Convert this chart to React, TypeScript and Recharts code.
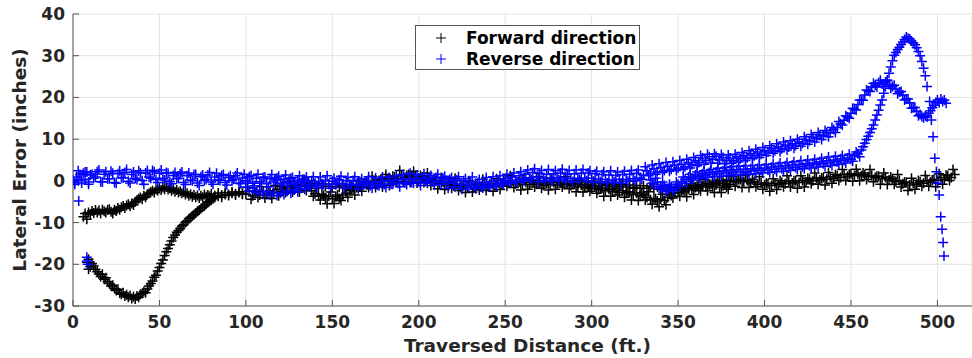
import React from 'react';
import { ScatterChart, Scatter, XAxis, YAxis, CartesianGrid, Legend, Label } from 'recharts';

// ---------- data (ft, inches) ----------
const xTicks = [0, 50, 100, 150, 200, 250, 300, 350, 400, 450, 500];
const yTicks = [-30, -20, -10, 0, 10, 20, 30, 40];
const seriesNames = ['Forward direction', 'Reverse direction'];

const fwdStartLower = [
  [8,-19.5],[9,-18.8],[9,-21.2],[10,-20.6],[11,-19.8],[12,-20.4],[13,-21.2],[14,-21.8],[15,-22.3],[16,-22.9],[17,-22.4],[18,-23.6],[19,-23.2],[20,-24.1],[21,-24.6],[22,-25.2],[23,-25.0],[24,-25.8],[25,-26.3],[26,-26.0],[27,-26.9],[28,-27.2],[29,-26.8],[30,-27.6],[31,-27.3],[32,-27.9],[33,-27.5],[34,-28.2],[35,-27.8],[36,-28.3],[37,-27.6],[38,-27.9],[39,-27.2],[40,-27.0],[41,-26.5],[42,-26.8],[43,-25.9],[44,-25.2],[45,-24.6],[46,-24.0],[47,-23.1],[48,-22.6],[49,-21.6],[50,-20.8],[51,-19.8],[52,-19.0],[53,-17.9],[54,-17.0],[55,-16.2],[56,-15.3],[57,-14.4],[58,-13.6],[59,-13.0],[60,-12.3],[61,-11.9],[62,-11.4],[63,-10.8],[64,-10.5],[65,-10.0],[66,-9.6],[67,-9.1],[68,-8.8],[69,-8.4],[70,-8.1],[71,-7.7],[72,-7.3],[73,-7.0],[74,-6.6],[75,-6.3],[76,-6.0],[77,-5.6],[78,-5.2],[79,-4.9],[80,-4.6],[81,-4.3],[82,-4.0],[84,-3.7],[86,-3.9],[88,-3.3],[90,-3.5],[92,-3.0],[94,-3.4],[96,-2.8],[98,-3.2],
];

const fwdStartUpper = [
  [6,-8.6],[7,-7.8],[8,-9.2],[9,-7.6],[10,-8.0],[11,-7.2],[12,-7.7],[13,-7.0],[14,-7.6],[15,-7.1],[16,-7.8],[17,-6.9],[18,-7.3],[19,-7.6],[20,-7.0],[21,-6.8],[22,-7.4],[23,-7.8],[24,-6.9],[25,-7.2],[26,-6.5],[27,-6.9],[28,-6.3],[29,-6.0],[30,-6.5],[31,-5.9],[32,-5.6],[33,-6.1],[34,-5.4],[35,-5.8],[36,-5.0],[37,-4.6],[38,-4.3],[39,-4.0],[40,-4.4],[41,-3.6],[42,-3.9],[43,-3.2],[44,-3.0],[45,-2.7],[46,-2.4],[47,-2.8],[48,-2.1],[49,-2.3],[50,-1.8],[51,-2.2],[52,-1.6],[53,-2.0],[54,-1.5],[55,-2.1],[56,-1.8],[57,-2.4],[58,-2.0],[59,-2.6],[60,-2.2],[61,-2.8],[62,-2.5],[63,-3.0],[64,-2.7],[65,-3.3],[66,-3.0],[67,-3.6],[68,-3.2],[69,-3.8],[70,-3.4],[71,-3.9],[72,-3.5],[73,-4.1],[74,-3.6],[75,-3.9],[76,-3.3],[77,-3.8],[78,-3.4],[79,-3.7],[80,-3.1],[82,-3.5],[84,-2.9],[86,-3.4],[88,-2.8],[90,-3.3],[92,-2.7],[94,-3.1],[96,-2.6],[98,-3.0],
];

const fwdMain = [
  [100,-3.2],[102,-2.5],[104,-3.6],[106,-2.8],[108,-3.4],[110,-2.6],[112,-3.3],[114,-2.4],[116,-2.9],[118,-2.0],[120,-2.5],[122,-1.7],[124,-2.2],[126,-1.4],[128,-1.8],[130,-0.9],[132,-1.3],[134,-0.6],[136,-1.2],[138,-2.4],[140,-3.1],[142,-3.6],[144,-3.2],[146,-4.1],[148,-3.7],[150,-4.3],[152,-3.8],[154,-4.2],[156,-3.4],[158,-3.0],[160,-2.4],[162,-2.0],[164,-1.6],[166,-1.2],[168,-1.0],[170,-0.5],[172,-0.9],[174,-0.2],[176,-0.6],[178,0.3],[180,-0.1],[182,0.5],[184,0.2],[186,0.9],[188,0.5],[190,1.2],[192,0.8],[194,1.5],[196,0.9],[198,1.2],
  [200,0.6],[202,0.9],[204,0.2],[206,0.5],[208,-0.2],[210,0.1],[212,-0.6],[214,-0.3],[216,-1.0],[218,-0.6],[220,-1.2],[222,-0.8],[224,-1.4],[226,-0.9],[228,-1.5],[230,-1.0],[232,-1.6],[234,-1.1],[236,-1.5],[238,-0.9],[240,-1.3],[242,-0.7],[244,-1.1],[246,-0.5],[248,-0.9],[250,-0.2],[252,-0.6],[254,-0.1],[256,-0.7],[258,-0.3],[260,-0.8],[262,-0.4],[264,-0.9],[266,-0.3],[268,-0.8],[270,-0.4],[272,-1.0],[274,-0.5],[276,-0.9],[278,-0.4],[280,-1.0],[282,-0.5],[284,-0.9],[286,-0.6],[288,-1.1],[290,-0.8],[292,-1.4],[294,-1.0],[296,-1.6],[298,-1.3],
  [300,-1.9],[302,-1.5],[304,-2.1],[306,-1.8],[308,-2.4],[310,-2.0],[312,-2.6],[314,-2.2],[316,-2.8],[318,-2.4],[320,-3.0],[322,-2.7],[324,-3.3],[326,-2.9],[328,-3.6],[330,-3.3],[332,-4.0],[334,-4.5],[336,-4.2],[338,-4.8],[340,-4.4],[342,-4.7],[344,-4.0],[346,-3.5],[348,-3.0],[350,-2.8],[352,-2.3],[354,-2.6],[356,-1.9],[358,-2.2],[360,-1.6],[362,-1.9],[364,-1.2],[366,-1.5],[368,-0.9],[370,-1.4],[372,-1.0],[374,-1.6],[376,-1.2],[378,-1.5],[380,-0.8],[382,-0.3],[384,0.0],[386,0.3],[388,-0.2],[390,0.1],[392,-0.5],[394,-0.2],[396,-0.8],[398,-0.5],
  [400,-1.0],[402,-0.7],[404,-1.1],[406,-0.6],[408,-0.9],[410,-0.4],[412,-0.7],[414,-0.1],[416,-0.5],[418,0.0],[420,-0.4],[422,0.1],[424,-0.3],[426,0.4],[428,0.0],[430,0.6],[432,0.2],[434,0.8],[436,0.4],[438,1.0],[440,0.6],[442,1.2],[444,0.8],[446,1.5],[448,1.1],[450,1.7],[452,1.3],[454,1.6],[456,1.2],[458,1.5],[460,1.0],[462,1.3],[464,0.8],[466,1.1],[468,0.5],[470,0.8],[472,0.2],[474,0.5],[476,-0.2],[478,0.1],[480,-0.7],[482,-0.4],[484,-1.0],[486,-0.5],[488,-0.8],[490,-0.2],[492,-0.6],[494,0.0],[496,-0.3],[498,0.4],[500,0.1],[502,0.8],[504,0.4],[506,1.2],[508,0.8],[510,1.5],
];

const fwdMainB = [
  [101,-1.6],[103,-4.4],[105,-2.5],[107,-4.0],[109,-1.4],[111,-4.1],[113,-2.6],[115,-4.2],[117,-1.1],[119,-3.6],[121,-1.4],[123,-2.8],[125,-0.1],[127,-2.7],[129,-1.1],[131,-2.7],[133,0.4],[135,-2.3],[137,-1.2],[139,-3.7],[141,-1.7],[143,-4.6],[145,-3.5],[147,-5.5],[149,-2.7],[151,-5.4],[153,-3.4],[155,-4.7],[157,-1.6],[159,-3.9],[161,-2.0],[163,-3.4],[165,-0.1],[167,-2.5],[169,-0.2],[171,-1.6],[173,1.1],[175,-1.6],[177,0.1],[179,-1.5],[181,1.5],[183,-1.1],[185,1.1],[187,-0.2],[189,2.5],[191,-0.2],[193,1.3],[195,-0.4],[197,2.3],[199,-0.5],
  [201,1.3],[203,-0.4],[205,1.9],[207,-1.1],[209,0.1],[211,-1.9],[213,0.8],[215,-2.1],[217,-0.2],[219,-1.8],[221,0.6],[223,-2.3],[225,-1.0],[227,-2.8],[229,0.0],[231,-2.7],[233,-0.7],[235,-2.2],[237,0.4],[239,-2.3],[241,-0.8],[243,-2.5],[245,0.5],[247,-2.1],[249,0.0],[251,-1.3],[253,1.2],[255,-1.6],[257,-0.4],[259,-2.2],[261,0.7],[263,-2.0],[265,0.0],[267,-1.5],[269,1.0],[271,-1.8],[273,-0.4],[275,-2.2],[277,0.7],[279,-2.0],[281,0.0],[283,-1.5],[285,1.0],[287,-1.9],[289,-0.6],[291,-2.6],[293,0.1],[295,-2.7],[297,-0.9],[299,-2.5],
  [301,-0.1],[303,-3.0],[305,-1.8],[307,-3.7],[309,-0.9],[311,-3.7],[313,-1.8],[315,-3.4],[317,-1.0],[319,-3.9],[321,-2.7],[323,-4.6],[325,-1.8],[327,-4.7],[329,-2.9],[331,-4.6],[333,-2.6],[335,-5.6],[337,-4.3],[339,-6.2],[341,-3.2],[343,-5.7],[345,-3.2],[347,-4.1],[349,-1.3],[351,-3.7],[353,-2.2],[355,-3.8],[357,-0.7],[359,-3.3],[361,-1.1],[363,-2.4],[365,0.3],[367,-2.4],[369,-0.9],[371,-2.8],[373,0.0],[375,-2.8],[377,-0.7],[379,-2.0],[381,1.1],[383,-1.3],[385,0.3],[387,-1.6],[389,1.3],[391,-1.6],[393,0.3],[395,-1.4],[397,1.0],[399,-2.0],
  [401,-0.6],[403,-2.5],[405,0.5],[407,-2.1],[409,0.0],[411,-1.4],[413,1.2],[415,-1.5],[417,0.0],[419,-1.8],[421,1.2],[423,-1.5],[425,0.6],[427,-0.7],[429,1.9],[431,-0.8],[433,0.7],[435,-1.0],[437,2.0],[439,-0.6],[441,1.5],[443,0.1],[445,2.7],[447,0.1],[449,1.6],[451,-0.1],[453,2.8],[455,0.0],[457,1.9],[459,0.3],[461,2.7],[463,-0.2],[465,1.1],[467,-0.8],[469,1.9],[471,-0.9],[473,0.9],[475,-0.8],[477,1.5],[479,-1.5],[481,-0.3],[483,-2.3],[485,0.6],[487,-2.0],[489,0.1],[491,-1.3],[493,1.3],[495,-1.3],[497,0.2],[499,-1.4],
  [501,1.7],[503,-0.8],[505,1.4],[507,0.1],[509,2.7],
];

const fwdSecondary = [
  [136,-0.3],[138,-1.0],[140,-0.6],[142,-1.2],[144,-0.7],[146,-1.3],[148,-0.8],[150,-1.4],[152,-0.9],[154,-1.5],[156,-1.0],[158,-1.6],[160,-1.1],[162,-1.4],[164,-0.9],[166,-1.2],[168,-0.7],[170,-1.0],
  [290,-0.2],[292,-0.7],[294,-0.3],[296,-0.9],[298,-0.4],[300,-1.0],[302,-0.5],[304,-1.1],[306,-0.6],[308,-1.2],[310,-0.7],[312,-1.3],[314,-0.8],[316,-1.4],[318,-0.9],[320,-1.5],[322,-1.0],[324,-1.6],[326,-1.1],[328,-1.7],[330,-1.2],[332,-1.8],[334,-1.3],[336,-1.9],[338,-1.4],[340,-2.0],[342,-1.5],[344,-2.1],[346,-1.6],[348,-2.2],[350,-1.7],[352,-2.0],[354,-1.4],[356,-1.8],[358,-1.2],[360,-1.5],[362,-0.9],[364,-1.2],[366,-0.6],[368,-0.9],[370,-0.3],[372,-0.6],[374,0.0],[376,-0.3],[378,0.2],[380,-0.1],
];

const revMain = [
  [0,0.2],[1,-0.8],[2,0.9],[3,0.0],[4,1.5],[5,-0.5],[6,1.8],[7,0.4],[8,2.1],[9,-0.3],[10,1.4],[12,0.6],[14,2.2],[16,-0.2],[18,1.6],[20,0.5],[22,2.3],[24,-0.4],[26,1.7],[28,0.8],[30,2.0],[32,-0.1],[34,1.5],[36,0.6],[38,2.4],[40,0.1],[42,1.9],[44,0.9],[46,2.5],[48,0.3],[50,1.8],[52,0.6],[54,2.0],[56,-0.2],[58,1.3],[60,0.5],[62,1.7],[64,-0.4],[66,1.2],[68,0.2],[70,1.5],[72,-0.5],[74,1.0],[76,0.1],[78,1.4],[80,-0.3],[82,0.9],[84,0.2],[86,1.3],[88,-0.4],[90,0.8],[92,0.0],[94,1.2],[96,-0.5],[98,0.7],
  [100,0.0],[102,1.0],[104,-0.6],[106,0.6],[108,-0.2],[110,0.8],[112,-0.7],[114,0.5],[116,-0.3],[118,0.7],[120,-0.6],[122,0.4],[124,-0.4],[126,0.6],[128,-0.8],[130,0.2],[132,-0.5],[134,0.3],[136,-0.9],[138,0.0],[140,-0.9],[142,-0.2],[144,-1.0],[146,0.1],[148,-0.8],[150,-0.1],[152,-0.9],[154,0.2],[156,-0.7],[158,0.0],[160,-0.8],[162,0.1],[164,-0.9],[166,-0.2],[168,-1.0],[170,-0.3],[172,-1.1],[174,-0.4],[176,-1.0],[178,-0.2],[180,-0.9],[182,0.0],[184,-0.8],[186,0.1],[188,-0.6],[190,0.3],[192,-0.5],[194,0.4],[196,-0.4],[198,0.5],
  [200,-0.2],[202,0.6],[204,-0.1],[206,0.7],[208,0.0],[210,0.8],[212,-0.2],[214,0.6],[216,-0.3],[218,0.4],[220,-0.6],[222,0.2],[224,-0.8],[226,0.0],[228,-1.0],[230,-0.3],[232,-1.2],[234,-0.5],[236,-1.3],[238,-0.4],[240,-1.1],[242,-0.2],[244,-0.8],[246,0.2],[248,-0.5],[250,0.5],[252,-0.1],[254,0.9],[256,0.2],[258,1.2],[260,0.4],[262,1.6],[264,0.7],[266,2.0],[268,0.9],[270,1.8],[272,0.6],[274,1.6],[276,0.5],[278,1.7],[280,0.8],[282,1.9],[284,0.7],[286,1.6],[288,0.5],[290,1.7],[292,0.6],[294,1.8],[296,0.7],[298,1.9],
  [300,0.6],[302,1.7],[304,0.4],[306,1.5],[308,0.3],[310,1.4],[312,0.2],[314,1.3],[316,0.4],[318,1.5],[320,0.3],[322,1.6],[324,0.5],[326,1.8],[328,0.7],
];

const revMainB = [
  [1,-0.4],[3,2.4],[5,0.2],[7,2.1],[9,-0.8],[11,1.6],[13,0.9],[15,2.6],[17,-0.3],[19,2.2],[21,0.5],[23,1.8],[25,-0.6],[27,2.4],[29,0.7],[31,2.7],[33,-0.5],[35,2.1],[37,0.3],[39,1.9],[41,-0.8],[43,2.5],[45,0.6],[47,2.2],[49,-0.4],[51,2.6],[53,0.2],[55,1.8],[57,-0.7],[59,2.0],[61,0.6],[63,2.1],[65,-0.9],[67,1.9],[69,0.0],[71,1.5],[73,-1.1],[75,1.4],[77,0.3],[79,2.0],[81,-0.8],[83,1.8],[85,0.1],[87,1.5],[89,-1.0],[91,1.2],[93,0.4],[95,1.9],[97,-0.7],[99,1.6],
  [101,-0.3],[103,1.3],[105,-1.2],[107,1.6],[109,-0.6],[111,0.9],[113,-1.4],[115,1.5],[117,0.2],[119,1.1],[121,-1.0],[123,1.4],[125,-0.5],[127,0.8],[129,-1.3],[131,1.2],[133,-0.2],[135,0.9],[137,-1.5],[139,1.0],[141,-1.6],[143,0.9],[145,-0.9],[147,1.2],[149,-1.8],[151,0.6],[153,-0.6],[155,1.1],[157,-1.7],[159,0.8],[161,-1.1],[163,1.0],[165,-1.9],[167,0.5],[169,-0.7],[171,1.0],[173,-1.8],[175,0.7],[177,-1.2],[179,0.9],[181,-1.6],[183,0.8],[185,-0.8],[187,1.2],[189,-1.4],[191,1.5],[193,-0.9],[195,1.8],[197,-0.5],[199,1.4],
  [201,-1.1],[203,1.7],[205,-0.6],[207,1.3],[209,-1.0],[211,1.6],[213,-0.8],[215,1.1],[217,-1.8],[219,0.8],[221,-1.4],[223,1.0],[225,-2.0],[227,0.5],[229,-1.6],[231,0.9],[233,-1.9],[235,0.3],[237,-1.7],[239,0.8],[241,-1.5],[243,1.0],[245,-1.3],[247,1.2],[249,-0.9],[251,1.6],[253,-0.6],[255,1.9],[257,-0.3],[259,2.2],[261,0.0],[263,2.6],[265,0.3],[267,2.9],[269,-0.2],[271,2.5],[273,0.1],[275,2.7],[277,-0.1],[279,2.4],[281,0.2],[283,2.8],[285,0.0],[287,2.5],[289,-0.2],[291,2.6],[293,0.3],[295,2.7],[297,0.0],[299,2.4],
  [301,-0.4],[303,2.3],[305,-0.2],[307,2.2],[309,-0.5],[311,2.4],[313,-0.3],[315,2.1],[317,-0.6],[319,2.3],[321,-0.1],[323,2.5],[325,0.0],[327,2.6],[329,0.4],
];

const revSecondary = [
  [100,-1.5],[102,-2.4],[104,-1.8],[106,-2.8],[108,-2.2],[110,-3.2],[112,-2.6],[114,-3.4],[116,-2.8],[118,-3.5],[120,-2.9],[122,-3.3],[124,-2.5],[126,-3.0],[128,-2.2],[130,-2.6],[132,-1.8],[134,-2.0],
];

const revUpper = [
  [330,1.4],[332,2.4],[334,1.8],[336,2.9],[338,2.2],[340,3.2],[342,2.5],[344,3.5],[346,2.8],[348,3.8],[350,3.1],[352,4.0],[354,3.4],[356,4.4],[358,3.9],[360,4.9],[362,4.4],[364,5.5],[366,4.9],[368,5.8],[370,5.2],[372,5.9],[374,5.0],[376,5.6],[378,4.8],[380,5.5],[382,4.9],[384,5.8],[386,5.3],[388,6.1],[390,5.6],[392,6.5],[394,6.0],[396,6.9],[398,6.4],
  [400,7.3],[402,6.9],[404,7.8],[406,7.3],[408,8.2],[410,7.7],[412,8.6],[414,8.1],[416,8.9],[418,8.5],[420,9.3],[422,9.0],[424,9.9],[426,9.6],[428,10.5],[430,10.2],[432,11.0],[434,10.8],[436,11.6],[438,11.5],[440,12.3],[442,12.8],[444,13.7],[446,14.5],[448,15.3],[450,16.2],[452,17.1],[454,18.3],[456,19.3],[458,20.6],[460,21.6],[462,22.5],[464,22.9],[466,23.6],[468,23.2],[470,23.7],[472,23.1],[474,22.6],[476,22.0],[478,21.3],[480,20.6],[482,19.6],[484,18.7],[486,17.5],[488,16.7],[490,15.9],[491,15.4],[492,15.1],[493,15.6],[494,15.3],[495,16.2],[496,16.8],[497,17.5],[498,18.1],[499,18.8],[500,19.4],[501,18.7],[502,19.6],[503,19.0],[504,19.4],[505,18.6],
];

const revUpperB = [
  [331,3.4],[333,1.2],[335,3.8],[337,1.6],[339,4.1],[341,2.0],[343,4.4],[345,2.3],[347,4.6],[349,2.5],[351,4.9],[353,2.8],[355,5.2],[357,3.1],[359,5.6],[361,3.6],[363,6.1],[365,4.0],[367,6.4],[369,4.3],[371,6.5],[373,4.2],[375,6.3],[377,4.1],[379,6.2],[381,4.2],[383,6.4],[385,4.5],[387,6.8],[389,4.9],[391,7.2],[393,5.3],[395,7.6],[397,5.6],[399,8.0],
  [401,6.1],[403,8.4],[405,6.6],[407,8.9],[409,7.0],[411,9.3],[413,7.4],[415,9.6],[417,7.8],[419,10.0],[421,8.3],[423,10.6],[425,8.8],[427,11.1],[429,9.3],[431,11.6],[433,9.9],[435,12.1],[437,10.6],[439,12.8],[441,11.6],[443,14.2],[445,13.4],[447,15.6],[449,15.0],[451,17.4],[453,17.0],[455,19.4],[457,19.3],[459,21.8],[461,21.4],[463,23.4],[465,22.5],[467,24.1],[469,22.6],[471,24.0],[473,22.2],[475,22.9],[477,20.9],[479,21.4],[481,19.4],[483,19.6],[485,17.4],[487,17.6],[489,15.6],
];

const revLower = [
  [334,0.2],[336,-0.9],[338,-0.4],[340,-1.6],[342,-1.1],[344,-2.2],[346,-1.4],[348,-1.9],[350,-0.8],[352,-0.2],[354,0.3],[356,0.9],[358,0.6],[360,1.4],[362,1.0],[364,1.7],[366,1.3],[368,2.0],[370,1.5],[372,2.2],[374,1.7],[376,2.4],[378,1.9],[380,2.6],[382,2.0],[384,2.7],[386,2.1],[388,2.8],[390,2.2],[392,2.9],[394,2.4],[396,3.0],[398,2.5],
  [400,3.1],[402,2.6],[404,3.3],[406,2.8],[408,3.5],[410,2.9],[412,3.6],[414,3.1],[416,3.8],[418,3.2],[420,3.9],[422,3.4],[424,4.1],[426,3.6],[428,4.3],[430,3.9],[432,4.6],[434,4.1],[436,4.8],[438,4.3],[440,5.0],[442,4.6],[444,5.3],[446,4.9],[448,5.5],[450,5.2],[452,6.0],[454,6.5],[456,7.4],[457,8.2],[458,9.0],[459,9.9],[460,10.7],[461,11.6],[462,12.5],[463,13.4],[464,14.6],[465,15.8],[466,16.9],[467,18.2],[468,19.4],[469,21.0],[470,22.6],[471,24.2],[472,25.8],[473,27.3],[474,28.8],[475,30.1],[476,30.8],[477,31.5],[478,32.0],[479,32.7],[480,33.3],[481,33.9],[482,34.5],[483,34.2],[484,34.0],[485,33.5],[486,33.1],[487,32.6],[488,31.9],[489,31.0],[490,30.0],[491,28.6],[492,27.0],[493,25.2],[494,22.6],[495.5,19.0],[496.5,14.6],[497.5,10.6],[498.5,5.4],[499.4,2.2],[500.2,-0.6],[501,-3.4],[501.9,-8.6],[502.7,-11.6],[503.3,-14.8],[503.8,-18.0],
];

const revLowerB = [
  [335,-0.6],[337,0.6],[339,-1.9],[341,-0.3],[343,-2.6],[345,-0.8],[347,-2.4],[349,-0.3],[351,-1.3],[353,0.9],[355,-0.6],[357,1.6],[359,0.2],[361,2.1],[363,0.6],[365,2.4],[367,0.8],[369,2.7],[371,1.0],[373,3.0],[375,1.1],[377,3.2],[379,1.3],[381,3.4],[383,1.4],[385,3.5],[387,1.5],[389,3.6],[391,1.6],[393,3.7],[395,1.7],[397,3.8],[399,1.9],
  [401,3.9],[403,2.0],[405,4.1],[407,2.2],[409,4.3],[411,2.3],[413,4.4],[415,2.5],[417,4.6],[419,2.7],[421,4.8],[423,2.9],[425,5.0],[427,3.1],[429,5.2],[431,3.3],[433,5.4],[435,3.5],[437,5.7],[439,3.7],[441,5.9],[443,4.0],[445,6.1],[447,4.3],[449,6.4],[451,4.7],[453,6.9],[455,5.8],
];

const revStartIsolated = [
  [3.3,-4.8],[8,-18.3],[8.2,-19.2],[8.5,-20.0],
];

// ---------- build series ----------
const toPoints = (arr: number[][]) => arr.map(([x, y]) => ({ x, y }));
const forwardData = toPoints([...fwdStartUpper, ...fwdStartLower, ...fwdMain, ...fwdMainB, ...fwdSecondary]);
const reverseData = toPoints([
  ...revMain, ...revMainB, ...revSecondary, ...revUpper, ...revUpperB, ...revLower, ...revLowerB, ...revStartIsolated,
]);

const FONT = '"DejaVu Sans", sans-serif';
const AXIS = '#555555';
const TEXT = '#262626';

const Plus = (props: any) => {
  const { cx, cy, color } = props;
  if (cx == null || cy == null) return null;
  return (
    <path
      d={`M${cx - 5},${cy}H${cx + 5}M${cx},${cy - 5}V${cy + 5}`}
      stroke={color}
      strokeWidth={1.5}
      fill="none"
    />
  );
};

const LegendBox = () => (
  <div
    style={{
      width: 223,
      height: 43,
      border: '1px solid #555',
      background: '#fff',
      position: 'relative',
      fontFamily: FONT,
      fontWeight: 'bold',
      fontSize: 17,
      color: '#000',
      boxSizing: 'content-box',
    }}
  >
    {seriesNames.map((name, i) => (
      <div
        key={name}
        style={{ position: 'absolute', left: 0, top: i === 0 ? 2 : 22.5, height: 20, width: 223, lineHeight: '20px' }}
      >
        <svg width={12} height={12} style={{ position: 'absolute', left: 19, top: 4 }}>
          <path d="M1,6H11M6,1V11" stroke={i === 0 ? '#000' : '#0000ff'} strokeWidth={1} fill="none" />
        </svg>
        <span style={{ position: 'absolute', left: 50, top: 0, whiteSpace: 'nowrap' }}>{name}</span>
      </div>
    ))}
  </div>
);

export default function App() {
  const tickStyle = { fill: TEXT, fontSize: 17, fontWeight: 'bold', fontFamily: FONT };
  return (
    <div style={{ position: 'absolute', left: 0, top: 0, width: 972, height: 358, overflow: 'hidden', background: '#fff' }}>
      <ScatterChart width={972} height={358} margin={{ top: 14, right: 0, bottom: 0, left: 13 }}>
        <CartesianGrid stroke="#e3e3e3" strokeWidth={1} />
        <XAxis
          xAxisId="top"
          orientation="top"
          type="number"
          dataKey="x"
          domain={[0, 520]}
          ticks={xTicks}
          height={0}
          tickSize={-6}
          tickFormatter={() => ''}
          axisLine={{ stroke: AXIS }}
          tickLine={{ stroke: AXIS }}
          allowDataOverflow
        />
        <XAxis
          type="number"
          dataKey="x"
          domain={[0, 520]}
          ticks={xTicks}
          height={52}
          tickSize={-6}
          tickMargin={16}
          tick={tickStyle}
          axisLine={{ stroke: AXIS }}
          tickLine={{ stroke: AXIS }}
          allowDataOverflow
        >
          <Label
            value="Traversed Distance (ft.)"
            position="center"
            dx={5}
            dy={13}
            style={{ fill: TEXT, fontSize: 18.5, fontWeight: 'bold', fontFamily: FONT }}
          />
        </XAxis>
        <YAxis
          type="number"
          dataKey="y"
          domain={[-30, 40]}
          ticks={yTicks}
          width={60}
          tickSize={-6}
          tickMargin={14}
          tick={tickStyle}
          axisLine={{ stroke: AXIS }}
          tickLine={{ stroke: AXIS }}
          allowDataOverflow
        >
          <Label
            value="Lateral Error (inches)"
            angle={-90}
            position="center"
            dx={-24}
            style={{ fill: TEXT, fontSize: 18.5, fontWeight: 'bold', fontFamily: FONT, textAnchor: 'middle' }}
          />
        </YAxis>
        <Legend
          layout="horizontal"
          verticalAlign="middle"
          align="center"
          content={() => <LegendBox />}
          wrapperStyle={{ left: 415, top: 25, width: 225, height: 45 }}
        />
        <Scatter
          name={seriesNames[0]}
          data={forwardData}
          isAnimationActive={false}
          shape={(p: any) => <Plus {...p} color="#000000" />}
        />
        <Scatter
          name={seriesNames[1]}
          data={reverseData}
          isAnimationActive={false}
          shape={(p: any) => <Plus {...p} color="#0000ff" />}
        />
      </ScatterChart>
    </div>
  );
}
